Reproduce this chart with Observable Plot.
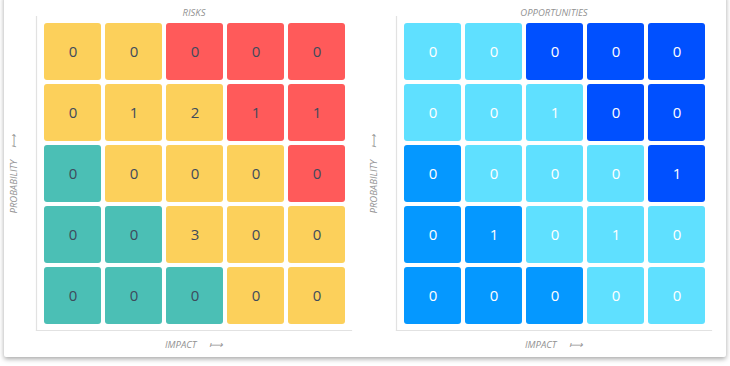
<!DOCTYPE html>
<html>
<head>
<meta charset="utf-8">
<script src="https://cdn.jsdelivr.net/npm/d3@7"></script>
<script src="https://cdn.jsdelivr.net/npm/@observablehq/plot@0.6"></script>
<style>
  html, body { margin: 0; padding: 0; background: #ffffff; width: 730px; height: 366px; overflow: hidden; font-family: "Open Sans", sans-serif; }
  #card { position: absolute; left: 4px; top: -6px; width: 722px; height: 363px; background: #fff; box-shadow: 0 2px 5px rgba(0,0,0,0.35); border-radius: 2px; }
  .panel { position: absolute; top: 0; }
  #risks { left: 0; }
  #opps { left: 360px; }
</style>
</head>
<body>
<div id="card"></div>
<div id="risks" class="panel"></div>
<div id="opps" class="panel"></div>
<script>
// Data
const impacts = [1, 2, 3, 4, 5];
const probabilities = [5, 4, 3, 2, 1]; // top row to bottom row

const riskLevels = [
  ["medium", "medium", "high", "high", "high"],
  ["medium", "medium", "medium", "high", "high"],
  ["low", "medium", "medium", "medium", "high"],
  ["low", "low", "medium", "medium", "medium"],
  ["low", "low", "low", "medium", "medium"]
];
const riskCounts = [
  [0, 0, 0, 0, 0],
  [0, 1, 2, 1, 1],
  [0, 0, 0, 0, 0],
  [0, 0, 3, 0, 0],
  [0, 0, 0, 0, 0]
];

const oppLevels = [
  ["low", "low", "high", "high", "high"],
  ["low", "low", "low", "high", "high"],
  ["medium", "low", "low", "low", "high"],
  ["medium", "medium", "low", "low", "low"],
  ["medium", "medium", "medium", "low", "low"]
];
const oppCounts = [
  [0, 0, 0, 0, 0],
  [0, 0, 1, 0, 0],
  [0, 0, 0, 0, 1],
  [0, 1, 0, 1, 0],
  [0, 0, 0, 0, 0]
];

const levelNames = ["low", "medium", "high"];
const riskColors = ["#4bbfb5", "#fcd05b", "#ff5a5a"];
const oppColors = ["#5fe0ff", "#0598ff", "#0050ff"];

function toTable(levels, counts) {
  const rows = [];
  probabilities.forEach((p, i) => {
    impacts.forEach((im, j) => {
      rows.push({impact: im, probability: p, level: levels[i][j], count: counts[i][j]});
    });
  });
  return rows;
}

function panel(title, levels, counts, colors, textColor) {
  const data = toTable(levels, counts);
  return Plot.plot({
    width: 360,
    height: 358,
    marginLeft: 36,
    marginRight: 9,
    marginTop: 16,
    marginBottom: 28,
    style: {fontFamily: "Open Sans, sans-serif", background: "transparent"},
    x: {type: "band", domain: impacts, padding: 0, insetLeft: 4, insetRight: 3, axis: null},
    y: {type: "band", domain: probabilities, padding: 0, insetTop: 3, insetBottom: 3, axis: null},
    color: {domain: levelNames, range: colors},
    marks: [
      Plot.frame({anchor: "left", stroke: "#e2e2e2", strokeWidth: 1.2}),
      Plot.frame({anchor: "bottom", stroke: "#e2e2e2", strokeWidth: 1.2}),
      Plot.cell(data, {x: "impact", y: "probability", fill: "level", inset: 2, rx: 3}),
      Plot.text(data, {x: "impact", y: "probability", text: "count", fill: textColor, fontSize: 15}),
      Plot.text([title], {frameAnchor: "top", dy: -7, fill: "#929292", fontSize: 9.5, fontStyle: "italic"}),
      Plot.text(["IMPACT     \u27FC"], {frameAnchor: "bottom", textAnchor: "middle", dy: 17, fill: "#929292", fontSize: 9.5, fontStyle: "italic"}),
      Plot.text(["PROBABILITY     \u27FC"], {frameAnchor: "left", textAnchor: "middle", dx: -23, rotate: -90, fill: "#929292", fontSize: 9.5, fontStyle: "italic"})
    ]
  });
}

document.getElementById("risks").appendChild(panel("RISKS", riskLevels, riskCounts, riskColors, "#3e4a5b"));
document.getElementById("opps").appendChild(panel("OPPORTUNITIES", oppLevels, oppCounts, oppColors, "#ffffff"));
</script>
</body>
</html>
